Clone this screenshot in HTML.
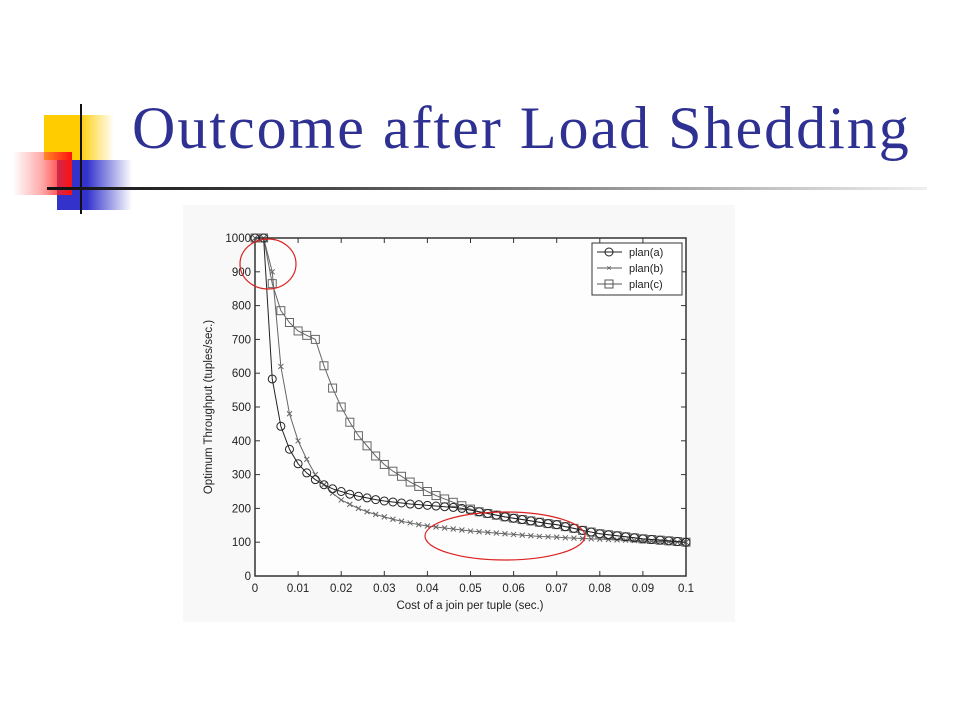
<!DOCTYPE html>
<html><head><meta charset="utf-8">
<style>
body{margin:0;width:960px;height:720px;background:#fff;position:relative;overflow:hidden;font-family:"Liberation Sans",sans-serif}
.abs{position:absolute}
</style></head>
<body>
<div class="abs" style="left:44px;top:115px;width:70px;height:45px;background:linear-gradient(to right,#ffcc00 0%,#ffcc00 50%,rgba(255,204,0,0) 100%)"></div>
<div class="abs" style="left:57px;top:160px;width:75px;height:50px;background:linear-gradient(to right,#3333cc 0%,#3333cc 40%,rgba(51,51,204,0) 100%)"></div>
<div class="abs" style="left:13px;top:152px;width:59px;height:43px;background:linear-gradient(to left,#ff1010 0%,rgba(255,80,80,0.5) 50%,rgba(255,255,255,0) 100%)"></div>
<div class="abs" style="left:80px;top:104px;width:2px;height:110px;background:#111"></div>
<div class="abs" style="left:47px;top:187px;width:880px;height:3px;background:linear-gradient(to right,#111 0%,#444 30%,rgba(200,200,200,0.3) 100%)"></div>
<div class="abs" style="left:132px;top:94px;font-family:'Liberation Serif',serif;font-size:60px;letter-spacing:2px;color:#2e3192;white-space:nowrap">Outcome after Load Shedding</div>

<svg class="abs" style="left:0;top:0" width="960" height="720">
<rect x="183" y="205" width="552" height="417" fill="#f8f8f8"/>
<rect x="255" y="238" width="431" height="338" fill="#fdfdfd" stroke="#333" stroke-width="1.5"/>
<g id="axes"></g><g id="series"></g>
<text x="470" y="609" font-size="11.5" text-anchor="middle" fill="#222">Cost of a join per tuple (sec.)</text>
<text transform="translate(212,407) rotate(-90)" font-size="11.5" text-anchor="middle" fill="#222">Optimum Throughput (tuples/sec.)</text>
<g>
<rect x="592" y="243" width="90" height="52" fill="#fff" stroke="#333"/>
<line x1="597" y1="252" x2="622" y2="252" stroke="#222"/><circle cx="609" cy="252" r="4" fill="none" stroke="#222"/>
<text x="629" y="256" font-size="11" fill="#222">plan(a)</text>
<line x1="597" y1="268" x2="622" y2="268" stroke="#555"/><text x="609" y="271" font-size="9" text-anchor="middle" fill="#555">×</text>
<text x="629" y="272" font-size="11" fill="#222">plan(b)</text>
<line x1="597" y1="284" x2="622" y2="284" stroke="#555"/><rect x="605" y="280" width="8" height="8" fill="none" stroke="#555"/>
<text x="629" y="288" font-size="11" fill="#222">plan(c)</text>
</g>
<ellipse cx="268" cy="264" rx="28" ry="25" fill="none" stroke="#d22" stroke-width="1.2"/>
<ellipse cx="505" cy="536" rx="80" ry="24" fill="none" stroke="#d22" stroke-width="1.2"/>
</svg>
<script>
const xs=[0,0.002,0.004,0.006,0.008,0.01,0.012,0.014,0.016,0.018,0.02,0.022,0.024,0.026,0.028,0.03,0.032,0.034,0.036,0.038,0.04,0.042,0.044,0.046,0.048,0.05,0.052,0.054,0.056,0.058,0.06,0.062,0.064,0.066,0.068,0.07,0.072,0.074,0.076,0.078,0.08,0.082,0.084,0.086,0.088,0.09,0.092,0.094,0.096,0.098,0.1];
const planA=[1000,1000,583,443,375,332,305,285,270,258,250,242,236,231,226,222,219,216,213,211,209,207,205,203,200,195,190,185,180,175,171,167,163,159,155,152,146,141,135,130,125,122,119,116,113,110,108,106,104,102,100];
const planB=[1000,1000,900,620,480,400,345,300,270,245,225,212,200,190,182,175,168,162,157,152,148,145,142,139,136,133,131,129,127,125,123,121,119,117,116,115,113,112,111,110,109,108,107,106,105,104,103,102,101,100,100];
const planC=[1000,1000,865,785,750,725,712,700,622,556,500,455,415,385,355,330,310,295,278,265,250,238,228,218,208,198,190,185,180,175,171,167,163,159,155,152,146,141,135,130,125,122,119,116,113,110,108,106,104,102,100];
const xTicks=[0,0.01,0.02,0.03,0.04,0.05,0.06,0.07,0.08,0.09,0.1];
const xTickLabels=["0","0.01","0.02","0.03","0.04","0.05","0.06","0.07","0.08","0.09","0.1"];
const yTicks=[0,100,200,300,400,500,600,700,800,900,1000];
const NS="http://www.w3.org/2000/svg";
const X=v=>255+v/0.1*431, Y=v=>576-v/1000*338;
function mk(t,a,p){const e=document.createElementNS(NS,t);for(const k in a)e.setAttribute(k,a[k]);p.appendChild(e);return e;}
const ax=document.getElementById('axes'), sg=document.getElementById('series');
xTicks.forEach((t,i)=>{
 mk('line',{x1:X(t),x2:X(t),y1:576,y2:571,stroke:'#333'},ax);
 mk('line',{x1:X(t),x2:X(t),y1:238,y2:243,stroke:'#333'},ax);
 const tx=mk('text',{x:X(t),y:592,'font-size':11.5,'text-anchor':'middle',fill:'#222'},ax);tx.textContent=xTickLabels[i];
 
 
});
yTicks.forEach(t=>{
 mk('line',{x1:255,x2:260,y1:Y(t),y2:Y(t),stroke:'#333'},ax);
 mk('line',{x1:686,x2:681,y1:Y(t),y2:Y(t),stroke:'#333'},ax);
 const tx=mk('text',{x:251,y:Y(t)+4,'font-size':11.5,'text-anchor':'end',fill:'#222'},ax);tx.textContent=t;
 
 
});
function series(vals,color,marker,name){
 const g=mk('g',{},sg);
 
 
 mk('polyline',{points:vals.map((v,i)=>X(xs[i])+','+Y(v)).join(' '),fill:'none',stroke:color,'stroke-width':1},g);
 vals.forEach((v,i)=>{const x=X(xs[i]),y=Y(v);
  if(marker==='o')mk('circle',{cx:x,cy:y,r:4,fill:'none',stroke:color},g);
  else if(marker==='s')mk('rect',{x:x-4,y:y-4,width:8,height:8,fill:'none',stroke:color},g);
  else{mk('line',{x1:x-2.5,y1:y-2.5,x2:x+2.5,y2:y+2.5,stroke:color},g);mk('line',{x1:x-2.5,y1:y+2.5,x2:x+2.5,y2:y-2.5,stroke:color},g);}
 });
}
series(planC,'#666','s','series-plan-c');
series(planB,'#666','x','series-plan-b');
series(planA,'#222','o','series-plan-a');
</script>
</body></html>
